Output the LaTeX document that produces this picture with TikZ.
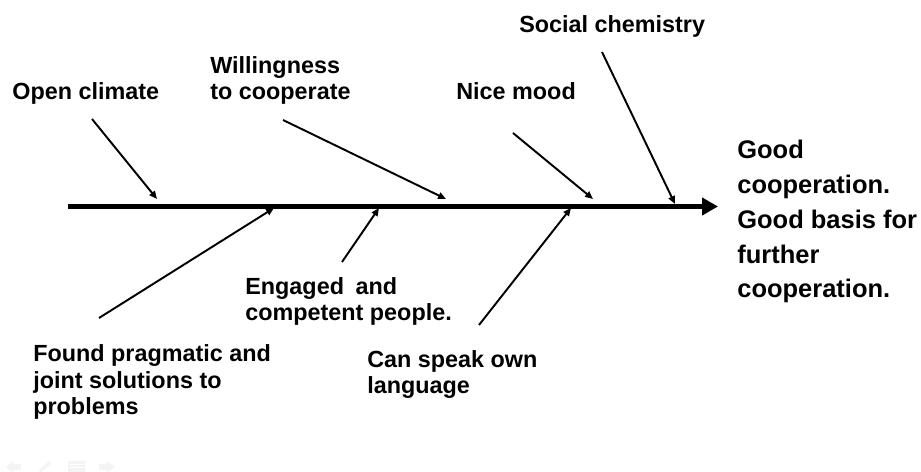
\documentclass[tikz,border=0pt]{standalone}
\usepackage{fontspec}
\setmainfont{Liberation Sans}
\usepackage{tikz}
\usetikzlibrary{arrows.meta}
\tikzset{
	% The causes written along the bones
	cause/.style={
		anchor=base west,inner sep=0pt,align=left,
		font=\bfseries\fontsize{13.3}{15.3}\selectfont
	},
	% The effect at the head of the fish
	effect/.style={
		anchor=base west,inner sep=0pt,align=left,
		font=\bfseries\fontsize{14.5}{19.8}\selectfont
	},
	% The backbone
	spine/.style={
		line width=3.4pt,-{Triangle[length=9pt,width=9.6pt]}
	},
	% The bones
	bone/.style={
		line width=1.1pt,-{Triangle[length=4.5pt,width=3.8pt]}
	},
	% The slide buttons
	navicon/.style={
		fill=gray!9,draw=none
	},
}
\begin{document}
\begin{tikzpicture}[x=0.02cm,y=-0.02cm]
		\useasboundingbox (0,0) rectangle (921,472);
		% Backbone
		\coordinate (Tail) at (68,206.5);
		\coordinate (Head) at (718,206.5);
		\draw [spine] (Tail) -- (Head);
		% (multi-line nodes sit on the baseline of their last line)
		\node [effect] (Good cooperation) at (737,298) {Good\\cooperation.\\Good basis for\\further\\cooperation.};

		% Causes above
		\node [cause] (Open climate) at (12,100) {Open climate};
		\node [cause] (Willingness) at (210,100) {Willingness\\to cooperate};
		\node [cause] (Nice mood) at (456,100) {Nice mood};
		\node [cause] (Social chemistry) at (519,33) {Social chemistry};

		% Causes below
		\node [cause] (Found pragmatic) at (33,415) {Found pragmatic and\\joint solutions to\\problems};
		\node [cause] (Engaged) at (245,321) {Engaged\hspace{0.5em}and\\competent people.};
		\node [cause] (Can speak) at (367,394) {Can speak own\\language};

		% Bones
		\coordinate (Open climate start) at (92,119);
		\coordinate (Open climate end) at (157,199);
		\coordinate (Willingness start) at (283,120);
		\coordinate (Willingness end) at (446,199);
		\coordinate (Nice mood start) at (513,133);
		\coordinate (Nice mood end) at (593,199);
		\coordinate (Social chemistry start) at (602,52);
		\coordinate (Social chemistry end) at (675,204);
		\coordinate (Found pragmatic start) at (99,318);
		\coordinate (Found pragmatic end) at (274,208);
		\coordinate (Engaged start) at (342,262);
		\coordinate (Engaged end) at (379,208);
		\coordinate (Can speak start) at (479,325);
		\coordinate (Can speak end) at (571,208);
		\foreach \b in {Open climate,Willingness,Nice mood,Social chemistry,Found pragmatic,Engaged,Can speak}
			\draw [bone] (\b\space start) -- (\b\space end);

		% Slide buttons
		\fill [navicon] (6,467) -- (13,461) -- (13,464) -- (21,464) -- (21,470) -- (13,470) -- (13,473) -- cycle;
		\fill [navicon] (38,471) -- (49,461) -- (52,463) -- (41,472) -- cycle;
		\fill [navicon] (68,461) rectangle (85,472);
		\fill [white] (70,464) rectangle (83,465) (70,467) rectangle (83,468);
		\fill [navicon] (99,464) -- (107,464) -- (107,461) -- (115,467) -- (107,473) -- (107,470) -- (99,470) -- cycle;
	\end{tikzpicture}
\end{document}
